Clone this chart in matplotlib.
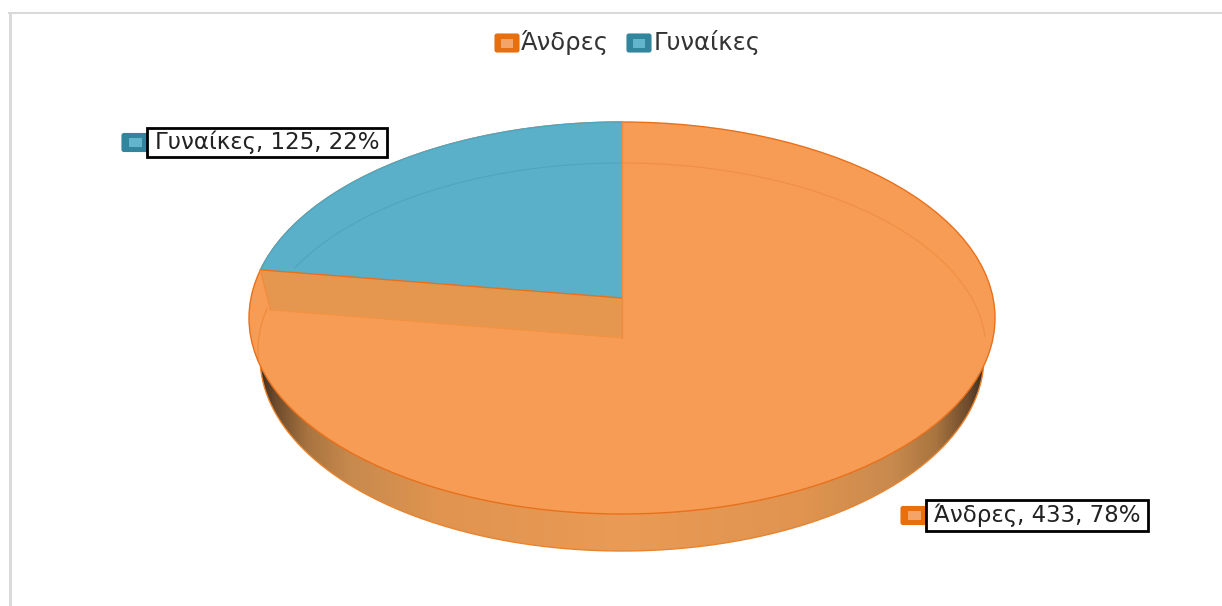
import numpy as np
import matplotlib
matplotlib.use("Agg")
import matplotlib.pyplot as plt
from matplotlib.patches import Polygon, Ellipse, Rectangle, FancyBboxPatch
from matplotlib.colors import LinearSegmentedColormap

categories = ["Άνδρες", "Γυναίκες"]
values = [433, 125]
percents = [78, 22]

ORANGE = "#F79C55"
ORANGE_EDGE = "#E8701A"
ORANGE_DARK = "#E6974F"
BLUE = "#5AB0C9"
MARK_O = ("#E86F0E", "#F5A469")
MARK_B = ("#31859C", "#62B5CC")

plt.rcParams['font.family'] = ['DejaVu Sans']
fig = plt.figure(figsize=(12.22, 6.06), dpi=100)
ax = fig.add_axes([0, 0, 1, 1])
ax.set_xlim(0, 1222)
ax.set_ylim(606, 0)
ax.axis("off")

# frame
ax.plot([9.5, 9.5], [606, 12], color="#D9D9D9", lw=2.1, zorder=1, solid_capstyle="butt")
ax.plot([8, 1222], [13, 13], color="#D9D9D9", lw=1.5, zorder=1, solid_capstyle="butt")

cx, cy, rx, ry = 622, 318, 373, 196       # top rim
bx, by, bry = 362, 357, 194               # bottom rim
apex_y, apex_ry, inner_drop = 298, 176, 40

def ell(c_y, r_x, r_y, t):
    return cx + r_x * np.cos(t), c_y + r_y * np.sin(t)

# side wall, shaded through a gradient clipped to its outline
t = np.linspace(np.radians(3), np.radians(177), 200)
xb, yb = ell(by, bx, bry, t)
xt, yt = ell(cy, rx, ry, t[::-1])
wall_pts = np.c_[np.r_[xb, xt], np.r_[yb, yt]]
wall = Polygon(wall_pts, closed=True, transform=ax.transData, fc="none", ec="none")
ax.add_patch(wall)
cmap = LinearSegmentedColormap.from_list("wall", [
    (0.00, "#2E2620"), (0.025, "#6B4A2C"), (0.07, "#A8743F"), (0.13, "#C88A4E"), (0.25, "#E0944F"),
    (0.50, "#EA9B56"), (0.75, "#E0944F"), (0.87, "#C88A4E"), (0.93, "#A8743F"), (0.975, "#6B4A2C"),
    (1.00, "#2E2620")])
im = ax.imshow(np.linspace(0, 1, 512)[None, :], cmap=cmap, aspect="auto",
               extent=[cx - bx - 5, cx + bx + 5, 560, 340], zorder=2)
ax.set_xlim(0, 1222)
ax.set_ylim(606, 0)
im.set_clip_path(wall)
ax.plot(*ell(by, bx, bry, t), color="#E8842F", lw=1.0, zorder=3)

# top face
ax.add_patch(Ellipse((cx, cy), 2 * rx, 2 * ry, fc=ORANGE, ec=ORANGE_EDGE, lw=1.0, zorder=4))

# slice of the second category, taken from the values
theta = 2 * np.pi * values[1] / sum(values)
dx, dy = -np.sin(theta) * rx, -np.cos(theta) * apex_ry
# ray from the apex to the rim of the top ellipse
a = (dx / rx) ** 2 + (dy / ry) ** 2
b = 2 * (apex_y - cy) * dy / ry ** 2
c = ((apex_y - cy) / ry) ** 2 - 1
s = (-b + np.sqrt(b * b - 4 * a * c)) / (2 * a)
ex, ey = cx + s * dx, apex_y + s * dy
t_end = np.arctan2((ey - cy) / ry, (ex - cx) / rx)
if t_end > 0:
    t_end -= 2 * np.pi
ta = np.linspace(-np.pi / 2, t_end, 120)
xa, ya = ell(cy, rx, ry, ta)
ax.add_patch(Polygon(np.c_[np.r_[cx, xa], np.r_[apex_y, ya]], closed=True,
                     fc=BLUE, ec="none", zorder=5))
ax.plot(xa, ya, color="#4FA6C0", lw=1.0, zorder=6)

# inner wall under the cut
ax.add_patch(Polygon([[cx, apex_y], [ex, ey], [ex + 10, ey + inner_drop], [cx, apex_y + inner_drop]],
                     closed=True, fc=ORANGE_DARK, ec="none", zorder=5))
ax.plot([ex, cx], [ey, apex_y], color=ORANGE_EDGE, lw=1.0, zorder=7)
ax.plot([cx, cx], [cy - ry, apex_y + inner_drop], color="#F08A3C", lw=1.0, zorder=7)
ax.plot([ex + 10, cx], [ey + inner_drop, apex_y + inner_drop], color="#F5923F", lw=0.8, zorder=7)
ax.plot([ex, ex + 10], [ey, ey + inner_drop], color="#F08A3C", lw=0.8, zorder=7)

# faint inner rim
irx, icy, iry = 364, 350, 187
t1 = np.linspace(np.radians(-90), np.radians(-4), 100)
ax.plot(*ell(icy, irx, iry, t1), color="#EF8F45", lw=0.8, zorder=6)
t2 = np.linspace(np.radians(-90), np.radians(-154), 80)
ax.plot(*ell(icy, irx, iry, t2), color="#4FA5BE", lw=0.8, zorder=6)
t3 = np.linspace(np.radians(-167), np.radians(-183), 30)
ax.plot(*ell(icy, irx, iry, t3), color="#F08A3C", lw=0.8, zorder=7)

def marker(x, y, cols, w=23, h=16):
    ax.add_patch(FancyBboxPatch((x - w / 2 + 1, y - h / 2 + 1), w - 2, h - 2,
                                boxstyle="round,pad=1,rounding_size=2",
                                fc=cols[0], ec=cols[0], lw=0.8, zorder=9))
    ax.add_patch(Rectangle((x - w / 4, y - h / 4), w / 2, h / 2, fc=cols[1], ec="none", zorder=10))

# legend
FS_LEGEND = 17.5
FS = 16.5
marker(507, 43, MARK_O, w=24, h=18)
ax.text(521, 42.5, categories[0], fontsize=FS_LEGEND, color="#333333", va="center", ha="left", zorder=10)
marker(639, 43, MARK_B, w=24, h=18)
ax.text(654, 42.5, categories[1], fontsize=FS_LEGEND, color="#333333", va="center", ha="left", zorder=10)

# data labels
def label(x0, y0, w, h, txt, cols, mx):
    marker(mx, y0 + h / 2, cols, w=26, h=18)
    ax.add_patch(Rectangle((x0, y0), w, h, fc="white", ec="black", lw=2, zorder=11))
    ax.text(x0 + w / 2, y0 + h / 2, txt, fontsize=FS, color="#222222", ha="center", va="center", zorder=12)

label(147, 128, 240, 29, f"{categories[1]}, {values[1]}, {percents[1]}%", MARK_B, 135)
label(926, 500, 222, 31, f"{categories[0]}, {values[0]}, {percents[0]}%", MARK_O, 914)

fig.savefig("out.png", dpi=100)
